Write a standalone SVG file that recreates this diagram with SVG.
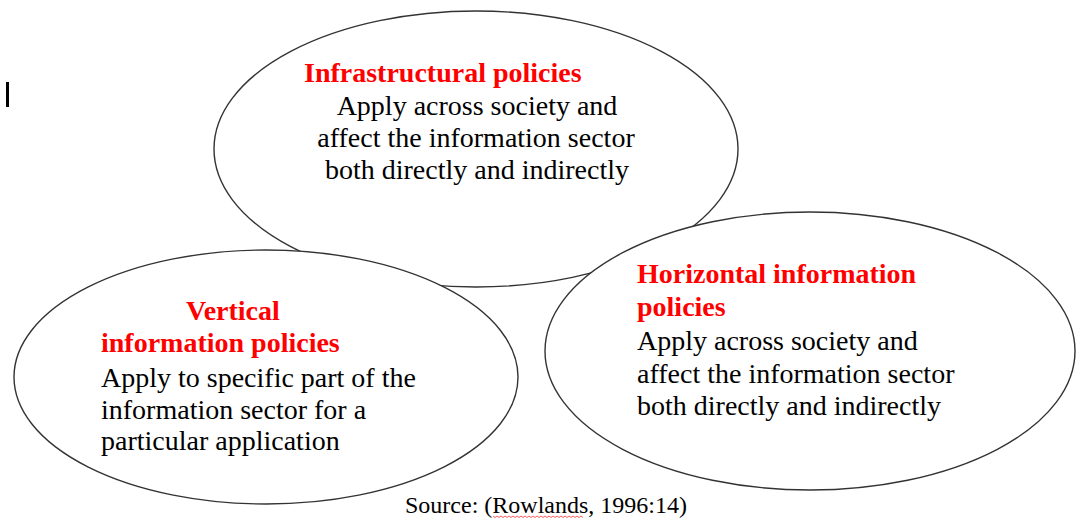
<svg xmlns="http://www.w3.org/2000/svg" width="1076" height="520" viewBox="0 0 1076 520">
<style>
.shape{fill:#ffffff;stroke:#333333;stroke-width:1.4}
.t{font-family:"Liberation Serif","Times New Roman",serif;font-size:28px;fill:#000000}
.h{font-family:"Liberation Serif","Times New Roman",serif;font-size:28px;font-weight:bold;fill:#ff0000}
.src{font-family:"Liberation Serif","Times New Roman",serif;font-size:24px;fill:#000000}
</style>
<rect x="0" y="0" width="1076" height="520" fill="#ffffff"/>
<rect x="6" y="82" width="3" height="25" fill="#000000"/>
<g id="connectors"></g>
<g id="infrastructural">
<ellipse class="shape" cx="476" cy="149" rx="262" ry="138"/>
<text class="h" x="304" y="82">Infrastructural policies</text>
<text class="t" x="477" y="115" text-anchor="middle">Apply across society and</text>
<text class="t" x="476" y="147" text-anchor="middle">affect the information sector</text>
<text class="t" x="477" y="179" text-anchor="middle">both directly and indirectly</text>
</g>
<g id="vertical">
<ellipse class="shape" cx="266" cy="377" rx="252" ry="127"/>
<text class="h" x="186" y="320">Vertical</text>
<text class="h" x="101" y="352">information policies</text>
<text class="t" x="101" y="387">Apply to specific part of the</text>
<text class="t" x="101" y="419">information sector for a</text>
<text class="t" x="101" y="450">particular application</text>
</g>
<g id="horizontal">
<ellipse class="shape" cx="810" cy="351" rx="265" ry="139"/>
<text class="h" x="637" y="283">Horizontal information</text>
<text class="h" x="637" y="316">policies</text>
<text class="t" x="637" y="350">Apply across society and</text>
<text class="t" x="637" y="383">affect the information sector</text>
<text class="t" x="637" y="415">both directly and indirectly</text>
</g>
<g id="source">
<text class="src" x="405" y="513">Source: (Rowlands, 1996:14)</text>
<path d="M493 516 l2 1.5 l2 -1.5 l2 1.5 l2 -1.5 l2 1.5 l2 -1.5 l2 1.5 l2 -1.5 l2 1.5 l2 -1.5 l2 1.5 l2 -1.5 l2 1.5 l2 -1.5 l2 1.5 l2 -1.5 l2 1.5 l2 -1.5 l2 1.5 l2 -1.5 l2 1.5 l2 -1.5 l2 1.5 l2 -1.5 l2 1.5 l2 -1.5 l2 1.5 l2 -1.5 l2 1.5 l2 -1.5 l2 1.5 l2 -1.5 l2 1.5 l2 -1.5 l2 1.5 l2 -1.5 l2 1.5 l2 -1.5 l2 1.5 l2 -1.5 l2 1.5 l2 -1.5 l2 1.5 l2 -1.5 l2 1.5" fill="none" stroke="#ff3333" stroke-width="0.8"/>
</g>
</svg>
